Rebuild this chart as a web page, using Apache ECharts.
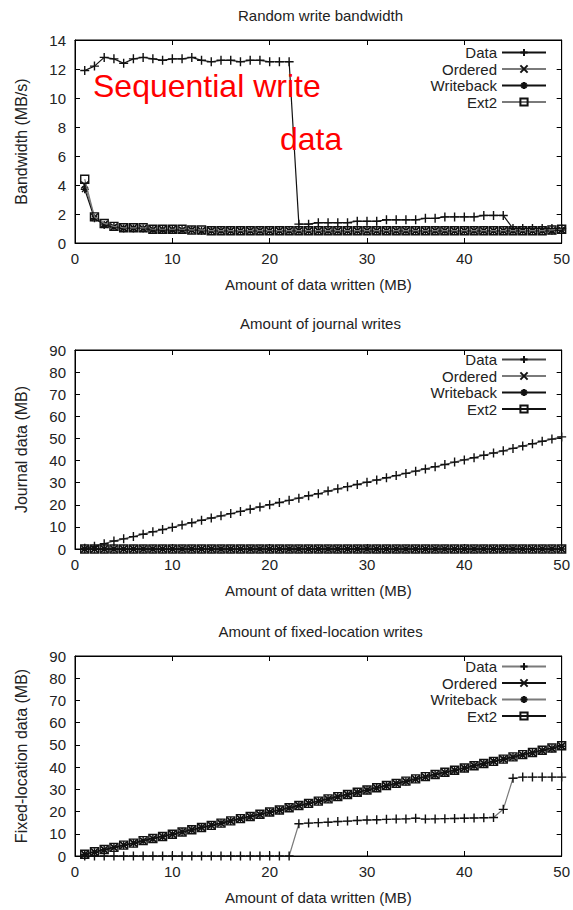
<!DOCTYPE html>
<html><head><meta charset="utf-8">
<script src="https://cdn.jsdelivr.net/npm/echarts@6/dist/echarts.min.js"></script>
<style>html,body{margin:0;padding:0;background:#fff;overflow:hidden}.p{position:absolute;left:0;width:573px}</style>
</head><body>
<div id="c1" class="p" style="top:0;height:300px"></div>
<div id="c2" class="p" style="top:300px;height:310px"></div>
<div id="c3" class="p" style="top:610px;height:300px"></div>
<script>
// ---------- data ----------
const xMB = [1,2,3,4,5,6,7,8,9,10,11,12,13,14,15,16,17,18,19,20,21,22,23,24,25,26,27,28,29,30,31,32,33,34,35,36,37,38,39,40,41,42,43,44,45,46,47,48,49,50];
const seriesNames = ['Data','Ordered','Writeback','Ext2'];
const xTicks = [0,10,20,30,40,50];

// Panel 1: Random write bandwidth (MB/s)
const bwData = [11.9,12.2,12.8,12.7,12.4,12.7,12.8,12.7,12.6,12.7,12.7,12.8,12.6,12.5,12.6,12.6,12.5,12.6,12.6,12.5,12.5,12.5,1.3,1.3,1.4,1.4,1.4,1.4,1.5,1.5,1.5,1.6,1.6,1.6,1.6,1.7,1.7,1.8,1.8,1.8,1.8,1.9,1.9,1.9,1.0,1.0,1.0,1.0,1.0,1.0];
const bwOrdered = [4.0,1.8,1.3,1.1,1.05,1.05,1.0,0.95,0.95,0.95,0.9,0.9,0.85,0.85,0.85,0.85,0.85,0.85,0.85,0.85,0.85,0.85,0.85,0.85,0.85,0.85,0.85,0.85,0.85,0.85,0.85,0.85,0.85,0.85,0.85,0.85,0.85,0.85,0.85,0.85,0.85,0.85,0.85,0.85,0.85,0.85,0.85,0.85,0.85,0.9];
const bwWriteback = [3.7,1.7,1.25,1.1,1.0,1.0,1.0,0.9,0.9,0.9,0.9,0.9,0.85,0.85,0.85,0.85,0.85,0.85,0.85,0.85,0.85,0.85,0.85,0.85,0.85,0.85,0.85,0.85,0.85,0.85,0.85,0.85,0.85,0.85,0.85,0.85,0.85,0.85,0.85,0.85,0.85,0.85,0.85,0.85,0.85,0.85,0.85,0.85,0.85,0.9];
const bwExt2 = [4.4,1.8,1.35,1.15,1.05,1.05,1.05,0.95,0.95,0.95,0.95,0.9,0.9,0.85,0.85,0.85,0.85,0.85,0.85,0.85,0.85,0.85,0.85,0.85,0.85,0.85,0.85,0.85,0.85,0.85,0.85,0.85,0.85,0.85,0.85,0.85,0.85,0.85,0.85,0.85,0.85,0.85,0.85,0.85,0.85,0.85,0.85,0.85,0.9,0.95];

// Panel 2: Amount of journal writes (MB)
const jData = [0.3,1.2,2.4,3.6,4.6,5.6,6.7,7.8,8.8,9.8,10.9,11.9,13.0,14.0,15.0,16.0,17.0,18.0,19.0,20.0,21.0,22.0,23.0,24.1,25.0,26.2,27.2,28.2,29.2,30.2,31.2,32.2,33.2,34.2,35.2,36.2,37.2,38.2,39.3,40.3,41.3,42.4,43.4,44.4,45.5,46.6,47.6,48.7,49.7,50.7];
const jOrdered = [0,0,0,0,0,0,0,0,0,0,0,0,0,0,0,0,0,0,0,0,0,0,0,0,0,0,0,0,0,0,0,0,0,0,0,0,0,0,0,0,0,0,0,0,0,0,0,0,0,0];
const jWriteback = [0,0,0,0,0,0,0,0,0,0,0,0,0,0,0,0,0,0,0,0,0,0,0,0,0,0,0,0,0,0,0,0,0,0,0,0,0,0,0,0,0,0,0,0,0,0,0,0,0,0];
const jExt2 = [0,0,0,0,0,0,0,0,0,0,0,0,0,0,0,0,0,0,0,0,0,0,0,0,0,0,0,0,0,0,0,0,0,0,0,0,0,0,0,0,0,0,0,0,0,0,0,0,0,0];

// Panel 3: Amount of fixed-location writes (MB)
const fData = [0,0,0,0,0,0,0,0,0,0,0,0,0,0,0,0,0,0,0,0,0,0,14.5,14.8,15.0,15.2,15.5,15.7,16.0,16.2,16.3,16.5,16.6,16.7,17.0,16.6,16.7,16.8,16.9,17.0,17.1,17.2,17.3,21.0,35.0,35.5,35.5,35.5,35.5,35.5];
const fOrdered = [0.8,1.8,2.8,3.8,4.8,5.8,6.8,7.8,8.8,9.8,10.8,11.8,12.8,13.8,14.8,15.8,16.8,17.8,18.7,19.7,20.7,21.7,22.7,23.7,24.7,25.7,26.7,27.7,28.7,29.7,30.6,31.6,32.6,33.6,34.6,35.6,36.6,37.6,38.6,39.6,40.6,41.6,42.6,43.6,44.5,45.5,46.5,47.5,48.5,49.5];
const fWriteback = [0.7,1.7,2.8,3.8,4.8,5.7,6.8,7.8,8.7,9.8,10.8,11.7,12.8,13.8,14.7,15.8,16.7,17.7,18.7,19.7,20.6,21.6,22.7,23.7,24.6,25.6,26.6,27.6,28.6,29.6,30.6,31.6,32.6,33.5,34.6,35.5,36.6,37.6,38.5,39.5,40.6,41.5,42.6,43.5,44.5,45.5,46.4,47.5,48.4,49.4];
const fExt2 = [0.8,1.9,2.9,3.9,4.9,5.8,6.9,7.9,8.8,9.8,10.8,11.8,12.8,13.8,14.8,15.8,16.8,17.8,18.8,19.8,20.7,21.7,22.7,23.7,24.7,25.7,26.7,27.7,28.7,29.7,30.7,31.7,32.7,33.7,34.7,35.7,36.7,37.7,38.6,39.6,40.6,41.6,42.6,43.6,44.6,45.6,46.6,47.6,48.6,49.6];

// ---------- styling ----------
const FONT = '"Liberation Sans", Arial, sans-serif';
const TXT = '#222';
const SYM = {
  plus: 'path://M5,0L5,10M0,5L10,5',
  cross: 'path://M0,0L10,10M10,0L0,10',
  star: 'path://M5,0L5,10M0,5L10,5M1.6,1.6L8.4,8.4M8.4,1.6L1.6,8.4',
  square: 'path://M0,0L10,0L10,10L0,10Z'
};
const symList = [SYM.plus, SYM.cross, SYM.star, SYM.square];
const symSize = [9, 7, 8, 8];
const BLACK = '#111', GRAY = '#7a7a7a', MID = '#444';

function pairs(ys) { return xMB.map((x, i) => [x, ys[i]]); }

function makeOption(cfg) {
  const g = cfg.grid;
  const axisCommon = {
    type: 'value',
    axisLine: { show: true, onZero: false, lineStyle: { color: '#000', width: 1 } },
    axisTick: { show: true, inside: true, length: 5, lineStyle: { color: '#000', width: 1 } },
    splitLine: { show: false }
  };
  const lblStyle = { color: TXT, fontSize: 15, fontFamily: FONT };
  const series = seriesNames.map((name, k) => ({
    name: name,
    type: 'line',
    xAxisIndex: 0, yAxisIndex: 0,
    data: pairs(cfg.values[k]),
    symbol: symList[k],
    symbolSize: symSize[k],
    showAllSymbol: true,
    animation: false,
    lineStyle: { color: cfg.colors[k], width: 1.2 },
    itemStyle: { color: 'rgba(0,0,0,0)', borderColor: cfg.markColors[k], borderWidth: 1.4 },
    emphasis: { disabled: true },
    z: 2 + k
  }));
  const graphic = [{
    type: 'text', x: (g.left + (573 - g.right)) / 2, y: cfg.titleY,
    style: { text: cfg.title, fill: TXT, font: '15px ' + FONT, align: 'center', verticalAlign: 'middle' }
  }].concat(cfg.extraText || []);
  return {
    animation: false,
    backgroundColor: '#fff',
    grid: { left: g.left, right: g.right, top: g.top, bottom: g.bottom, show: true, borderColor: '#000', borderWidth: 1, containLabel: false },
    xAxis: [
      Object.assign({}, axisCommon, {
        position: 'bottom', min: 0, max: 50, interval: 10,
        axisLabel: Object.assign({ margin: 8 }, lblStyle),
        name: 'Amount of data written (MB)', nameLocation: 'middle', nameGap: cfg.xNameGap,
        nameTextStyle: lblStyle
      }),
      Object.assign({}, axisCommon, {
        position: 'top', min: 0, max: 50, interval: 10, axisLabel: { show: false }
      })
    ],
    yAxis: [
      Object.assign({}, axisCommon, {
        position: 'left', min: 0, max: cfg.yMax, interval: cfg.yInterval,
        axisLabel: Object.assign({ margin: 9 }, lblStyle),
        name: cfg.yName, nameLocation: 'middle', nameGap: cfg.yNameGap, nameRotate: 90,
        nameTextStyle: { color: TXT, fontSize: 16, fontFamily: FONT }
      }),
      Object.assign({}, axisCommon, {
        position: 'right', min: 0, max: cfg.yMax, interval: cfg.yInterval, axisLabel: { show: false }
      })
    ],
    legend: {
      orient: 'vertical', align: 'right', right: 26, top: cfg.legendTop,
      itemWidth: 44, itemHeight: 9, itemGap: 1.5, padding: 0,
      selectedMode: false,
      textStyle: { color: TXT, fontSize: 15, fontFamily: FONT },
      data: seriesNames
    },
    graphic: graphic,
    series: series
  };
}

const panels = [
  { id: 'c1', title: 'Random write bandwidth', titleY: 15,
    grid: { left: 75, right: 7, top: 40, bottom: 57 },
    yMax: 14, yInterval: 2, yName: 'Bandwidth (MB/s)', yNameGap: 46, xNameGap: 34,
    legendTop: 45,
    values: [bwData, bwOrdered, bwWriteback, bwExt2],
    colors: [BLACK, GRAY, BLACK, GRAY],
    markColors: [BLACK, BLACK, BLACK, BLACK],
    extraText: [
      { type: 'text', x: 93, y: 86, z: 100, style: { text: 'Sequential write', fill: '#ff0000', font: '32px ' + FONT, align: 'left', verticalAlign: 'middle' } },
      { type: 'text', x: 280, y: 139, z: 100, style: { text: 'data', fill: '#ff0000', font: '32px ' + FONT, align: 'left', verticalAlign: 'middle' } }
    ] },
  { id: 'c2', title: 'Amount of journal writes', titleY: 23,
    grid: { left: 75, right: 7, top: 50, bottom: 61 },
    yMax: 90, yInterval: 10, yName: 'Journal data (MB)', yNameGap: 46, xNameGap: 34,
    legendTop: 52,
    values: [jData, jOrdered, jWriteback, jExt2],
    colors: [MID, GRAY, BLACK, BLACK],
    markColors: [BLACK, BLACK, BLACK, BLACK] },
  { id: 'c3', title: 'Amount of fixed-location writes', titleY: 21,
    grid: { left: 75, right: 7, top: 46, bottom: 52 },
    yMax: 90, yInterval: 10, yName: 'Fixed-location data (MB)', yNameGap: 46, xNameGap: 34,
    legendTop: 49,
    values: [fData, fOrdered, fWriteback, fExt2],
    colors: [GRAY, BLACK, GRAY, BLACK],
    markColors: [BLACK, BLACK, BLACK, BLACK] }
];

panels.forEach(p => {
  const chart = echarts.init(document.getElementById(p.id), null, { renderer: 'svg' });
  chart.setOption(makeOption(p));
});
</script>
</body></html>
